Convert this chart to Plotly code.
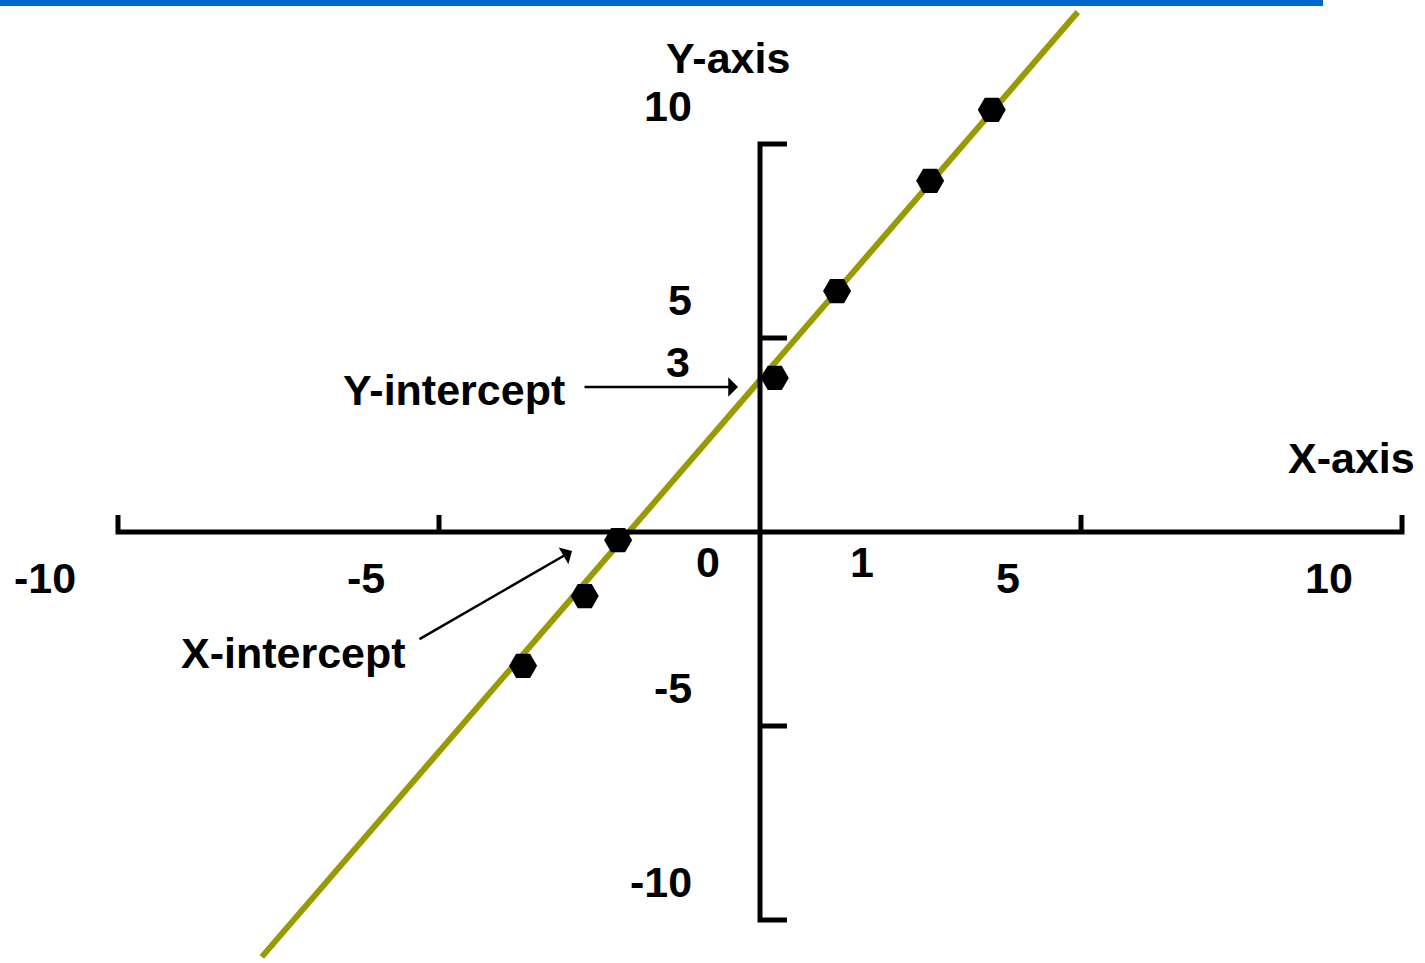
import plotly.graph_objects as go

# ---- values (chart units) ----
x_ticks = [-10, -5, 5, 10]
x_tick_labels = ["-10", "-5", "5", "10"]
y_ticks = [-10, -5, 5, 10]
y_tick_labels = ["-10", "-5", "5", "10"]

line_x = [-7.76, 4.95]
line_y = [-10.95, 13.40]

point_x = [-3.69, -2.73, -2.21, 0.23, 1.20, 2.65, 3.61]
point_y = [-3.45, -1.65, -0.21, 3.97, 6.21, 9.05, 10.88]

W, H = 1425, 963
FONT = dict(family="Liberation Sans, Arial, sans-serif", size=43, color="black")


def P(px, py):
    return px / W, 1 - py / H


XT = 0.44  # x tick length (y units)
YT = 0.42  # y tick length (x units)

xt = sorted(x_ticks)
ax_x = [xt[0], xt[0], xt[-1], xt[-1], None]
ax_y = [XT, 0, 0, XT, None]
for t in xt[1:-1]:
    ax_x += [t, t, None]
    ax_y += [0, XT, None]

yt = sorted(y_ticks)
ay_x = [YT, 0, 0, YT, None]
ay_y = [yt[-1], yt[-1], yt[0], yt[0], None]
for t in yt[1:-1]:
    ay_x += [0, YT, None]
    ay_y += [t, t, None]

fig = go.Figure()
fig.add_trace(go.Scatter(x=line_x, y=line_y, mode="lines",
                         line=dict(color="#999900", width=6), hoverinfo="skip"))
fig.add_trace(go.Scatter(x=ax_x, y=ax_y, mode="lines",
                         line=dict(color="black", width=5), hoverinfo="skip"))
fig.add_trace(go.Scatter(x=ay_x, y=ay_y, mode="lines",
                         line=dict(color="black", width=5), hoverinfo="skip"))
fig.add_trace(go.Scatter(x=point_x, y=point_y, mode="markers",
                         marker=dict(symbol="hexagon2", size=28, color="black",
                                     line=dict(width=0))))

ann = []
for t, lab in zip(x_ticks, x_tick_labels):
    ann.append(dict(x=t, y=0, xref="x", yref="y", text="<b>%s</b>" % lab,
                    showarrow=False, xanchor="center", yanchor="middle",
                    xshift=-73, yshift=-46, font=FONT))
for t, lab in zip(y_ticks, y_tick_labels):
    ann.append(dict(x=0, y=t, xref="x", yref="y", text="<b>%s</b>" % lab,
                    showarrow=False, xanchor="right", yanchor="middle",
                    xshift=-66, yshift=38, font=FONT))

labels = [("0", 708, 562), ("1", 862, 562), ("3", 678, 362),
          ("Y-axis", 728, 58), ("X-axis", 1351, 458),
          ("Y-intercept", 454, 390), ("X-intercept", 293, 653)]
for txt, px, py in labels:
    x, y = P(px, py)
    ann.append(dict(x=x, y=y, xref="paper", yref="paper", text="<b>%s</b>" % txt,
                    showarrow=False, xanchor="center", yanchor="middle", font=FONT))

arrows = [((738, 387), (583, 387)), ((572, 551), (418, 640))]
for (hx, hy), (tx, ty) in arrows:
    x, y = P(hx, hy)
    ann.append(dict(x=x, y=y, xref="paper", yref="paper", text="",
                    showarrow=True, arrowhead=1, arrowsize=1.3, arrowwidth=2.5,
                    arrowcolor="black", ax=tx - hx, ay=ty - hy))

fig.update_layout(
    width=W, height=H, autosize=False,
    margin=dict(l=0, r=0, t=0, b=0, pad=0),
    paper_bgcolor="white", plot_bgcolor="white",
    showlegend=False,
    xaxis=dict(range=[-11.838, 10.358], visible=False, fixedrange=True),
    yaxis=dict(range=[-11.108, 13.711], visible=False, fixedrange=True),
    annotations=ann,
    shapes=[dict(type="rect", xref="paper", yref="paper", x0=0, x1=1323 / W,
                 y0=1 - 6 / H, y1=1, fillcolor="#0066CC", line=dict(width=0),
                 layer="above")],
)

fig.write_html("out.html", config={"displayModeBar": False},
               post_script="document.body.style.margin='0px';"
                           "document.body.style.overflow='hidden';")
